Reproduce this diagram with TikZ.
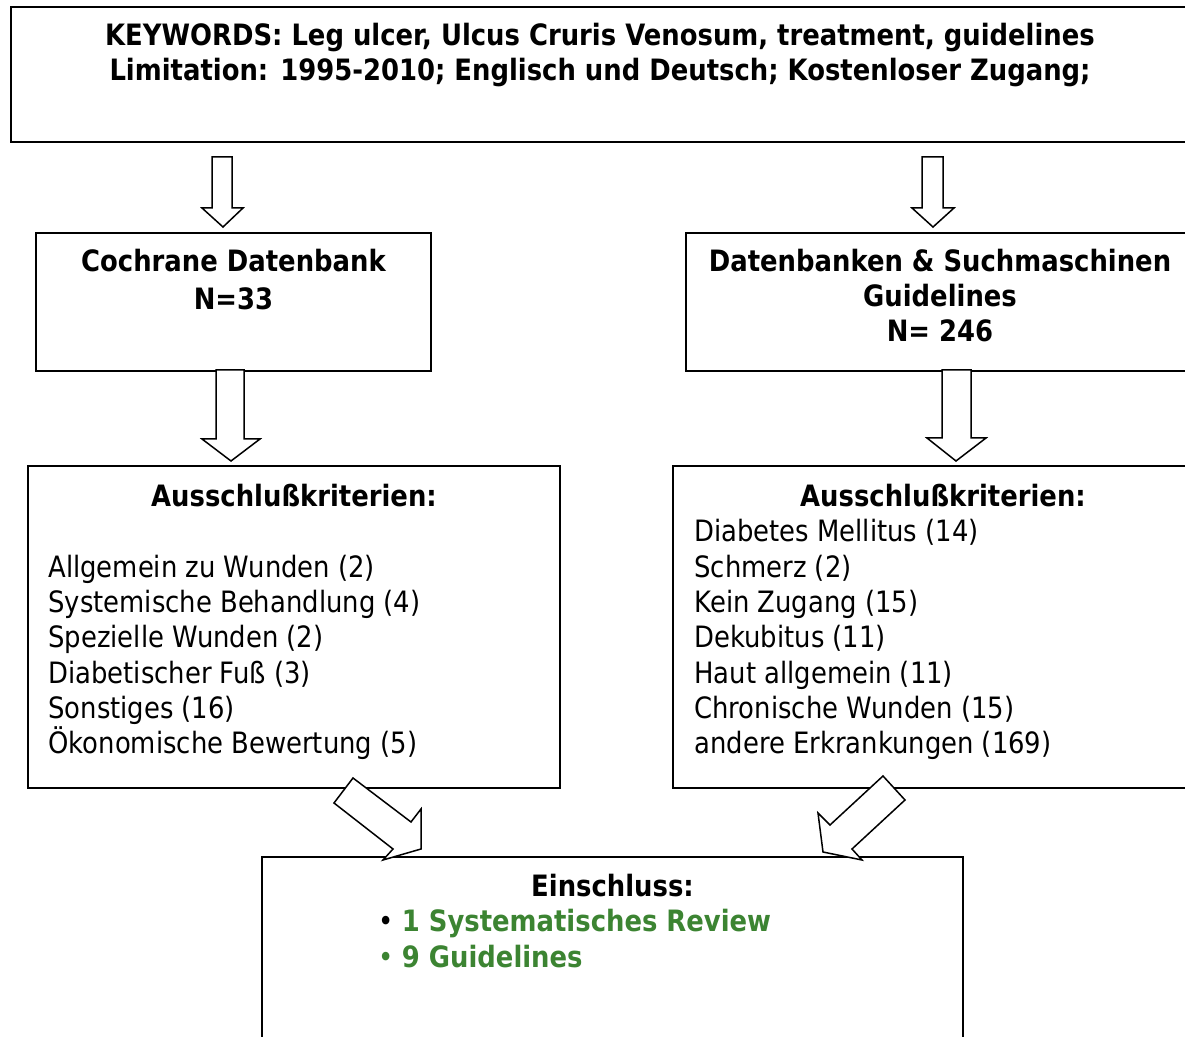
\documentclass[tikz,border=0pt]{standalone}
\usepackage{fontspec}
\setmainfont{DejaVu Sans}[FakeStretch=0.88]
\usetikzlibrary{positioning}
\definecolor{okgreen}{RGB}{60,132,50}

\begin{document}
\begin{tikzpicture}[x=0.5pt,y=-0.5pt,
  box/.style={draw, line width=1pt, inner sep=0pt},
  blockarrow/.style={draw, fill=white, line width=0.75pt, line join=miter},
  head/.style={inner sep=0pt, align=center, font=\bfseries\fontsize{14.7}{17.7}\selectfont},
  list/.style={inner sep=0pt, align=left, font=\fontsize{14.7}{17.7}\selectfont}]
  \useasboundingbox (0,0) rectangle (1185,1037);

  % boxes
  \node[box, minimum width=589pt, minimum height=67.5pt] (keywords) at (600,74.5) {};
  \node[box, minimum width=197.5pt, minimum height=69pt] (cochrane) at (233.5,302) {};
  \node[box, minimum width=254pt, minimum height=69pt] (search) at (940,302) {};
  \node[box, minimum width=266pt, minimum height=161pt] (exclleft) at (294,627) {};
  \node[box, minimum width=270pt, minimum height=161pt] (exclright) at (943,627) {};
  \node[box, minimum width=350.5pt, minimum height=136.5pt] (incl) at (612.5,993.5) {};

  % texts (base = last line)
  \node[head, anchor=base] (kwtext) at (600,81)
    {KEYWORDS: Leg ulcer, Ulcus Cruris Venosum, treatment, guidelines\\
     Limitation: 1995-2010; Englisch und Deutsch; Kostenloser Zugang;};
  \node[head, anchor=base] (cochranetext) at (233.5,310) {Cochrane Datenbank\\[1.4pt]N=33};
  \node[head, anchor=base] (searchtext) at (940,342) {Datenbanken \& Suchmaschinen\\Guidelines\\N= 246};
  \node[head, anchor=base] (exclltitle) at (294,507) {Ausschlußkriterien:};
  \node[list, anchor=base west] (excllist) at (48,754)
    {Allgemein zu Wunden (2)\\
     Systemische Behandlung (4)\\
     Spezielle Wunden (2)\\
     Diabetischer Fuß (3)\\
     Sonstiges (16)\\
     Ökonomische Bewertung (5)};
  \node[head, anchor=base] (exclrtitle) at (943,507) {Ausschlußkriterien:};
  \node[list, anchor=base west] (exclrlist) at (694,754)
    {Diabetes Mellitus (14)\\
     Schmerz (2)\\
     Kein Zugang (15)\\
     Dekubitus (11)\\
     Haut allgemein (11)\\
     Chronische Wunden (15)\\
     andere Erkrankungen (169)};
  \node[head, anchor=base] (incltitle) at (612.5,897) {Einschluss:};
  \node[head, anchor=base west, align=left] (incllist) at (378,967)
    {\mdseries\textbullet{} \bfseries\color{okgreen}1 Systematisches Review\\
     \color{okgreen}\mdseries\textbullet{} \bfseries 9 Guidelines};

  % block arrows
  \draw[blockarrow] (212,157) -- (232,157) -- (232,208) -- (243,208) -- (223,227)
    -- (202,208) -- (212,208) -- cycle;
  \draw[blockarrow] (922,157) -- (943,157) -- (943,208) -- (954,208) -- (933,227)
    -- (912,208) -- (922,208) -- cycle;
  \draw[blockarrow] (216,370) -- (244,370) -- (244,439) -- (260,439) -- (231,461)
    -- (202,439) -- (216,439) -- cycle;
  \draw[blockarrow] (942,370) -- (971,370) -- (971,438) -- (986,438) -- (956,461)
    -- (927,438) -- (942,438) -- cycle;
  \draw[blockarrow] (353,778) -- (411,822) -- (421,809) -- (421,849) -- (383,860)
    -- (393,849) -- (334,803) -- cycle;
  \draw[blockarrow] (883,776) -- (905,800) -- (852,849) -- (862,860) -- (823,852)
    -- (818,813) -- (830,825) -- cycle;
\end{tikzpicture}
\end{document}
